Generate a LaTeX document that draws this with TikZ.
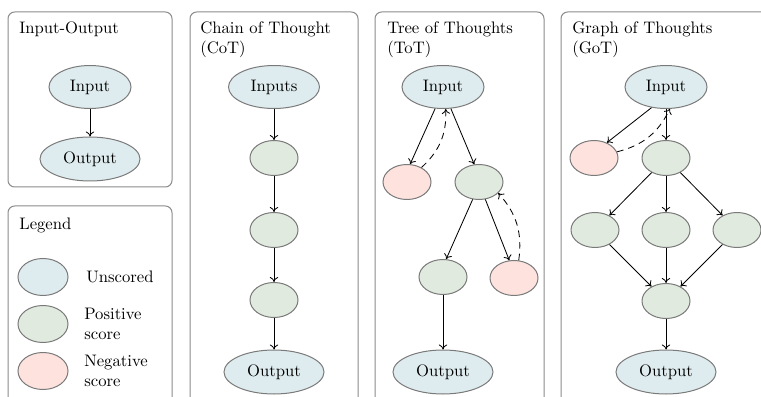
\documentclass[tikz,border=0pt]{standalone}
\usetikzlibrary{shapes.geometric,arrows.meta}
\definecolor{unscored}{HTML}{DFECEF}
\definecolor{positive}{HTML}{E0EADF}
\definecolor{negative}{HTML}{FDE2DE}
\definecolor{rim}{HTML}{7A7A7A}
\definecolor{frame}{HTML}{8A8A8A}
\begin{document}
\begin{tikzpicture}[x=0.6pt,y=-0.6pt,
  panel/.style={draw=frame,line width=0.6pt,rounded corners=4pt},
  title/.style={anchor=north west,inner sep=0pt,align=left},
  thought/.style={ellipse,draw=rim,line width=0.6pt,inner sep=0pt},
  unsc/.style={thought,fill=unscored},
  posi/.style={thought,fill=positive,minimum width=48*0.6pt,minimum height=35*0.6pt},
  nega/.style={thought,fill=negative,minimum width=48*0.6pt,minimum height=35*0.6pt},
  small/.style={minimum width=82*0.6pt,minimum height=43*0.6pt},
  big/.style={minimum width=100*0.6pt,minimum height=44*0.6pt},
  leg/.style={thought,minimum width=50*0.6pt,minimum height=37*0.6pt},
  link/.style={-{To[length=3pt,width=5pt]},line width=0.5pt},
  back/.style={link,dashed,dash pattern=on 4pt off 3pt},
]
\clip (0,0) rectangle (761,397);

% panel frames
\draw[panel] (8,12) rectangle (172,187);
\draw[panel] (8,206) rectangle (172,420);
\draw[panel] (190,12) rectangle (358,420);
\draw[panel] (375,12) rectangle (544,420);
\draw[panel] (561,12) rectangle (800,420);

% titles
\node[title] (tio) at (19,21.5) {Input-Output};
\node[title] (tleg) at (19,217.5) {Legend};
\node[title] (tcot) at (200,21.5) {Chain of Thought\\(CoT)};
\node[title] (ttot) at (387,21.5) {Tree of Thoughts\\(ToT)};
\node[title] (tgot) at (572,21.5) {Graph of Thoughts\\(GoT)};

% Input-Output
\node[unsc,small] (ioin) at (90,87) {Input};
\node[unsc,big] (ioout) at (90,159) {Output};
\draw[link] (ioin) -- (ioout);

% Legend
\node[leg,fill=unscored] (lu) at (43,277) {};
\node[leg,fill=positive] (lp) at (43,324) {};
\node[leg,fill=negative] (ln) at (43,371) {};
\node[anchor=west,inner sep=0pt] (lut) at (86,277) {Unscored};
\node[anchor=west,inner sep=0pt,align=left] (lpt) at (84,324) {Positive\\score};
\node[anchor=west,inner sep=0pt,align=left] (lnt) at (84,371) {Negative\\score};

% Chain of Thought
\node[unsc,small,minimum width=91*0.6pt] (cin) at (274,87) {Inputs};
\node[posi] (c1) at (274,158) {};
\node[posi] (c2) at (274,230) {};
\node[posi] (c3) at (274,300) {};
\node[unsc,big] (cout) at (274,372) {Output};
\draw[link] (cin) -- (c1);
\draw[link] (c1) -- (c2);
\draw[link] (c2) -- (c3);
\draw[link] (c3) -- (cout);

% Tree of Thoughts
\node[unsc,small] (tin) at (443,87) {Input};
\node[nega] (tn1) at (407,182) {};
\node[posi] (tp1) at (479,182) {};
\node[posi] (tp2) at (443,277) {};
\node[nega] (tn2) at (514,278) {};
\node[unsc,big] (tout) at (443,372) {Output};
\draw[link] (tin.-110) -- (tn1.80);
\draw[link] (tin.-70) -- (tp1.105);
\draw[back] (tn1.45) to[bend right=25] (tin.-83);
\draw[link] (tp1.-110) -- (tp2.80);
\draw[link] (tp1.-70) -- (tn2.105);
\draw[back] (tn2.75) to[bend right=25] (tp1.-30);
\draw[link] (tp2) -- (tout);

% Graph of Thoughts
\node[unsc,small] (gin) at (666,87) {Input};
\node[nega] (gn) at (594,158) {};
\node[posi] (g0) at (666,158) {};
\node[posi] (gl) at (595,230) {};
\node[posi] (gm) at (666,230) {};
\node[posi] (gr) at (737,230) {};
\node[posi] (gj) at (666,301) {};
\node[unsc,big] (gout) at (666,372) {Output};
\draw[link] (gin.-125) -- (gn.50);
\draw[link] (gin) -- (g0);
\draw[back] (gn.15) to[bend right=25] (gin.-80);
\draw[link] (g0) -- (gl);
\draw[link] (g0) -- (gm);
\draw[link] (g0) -- (gr);
\draw[link] (gl) -- (gj);
\draw[link] (gm) -- (gj);
\draw[link] (gr) -- (gj);
\draw[link] (gj) -- (gout);
\end{tikzpicture}
\end{document}
